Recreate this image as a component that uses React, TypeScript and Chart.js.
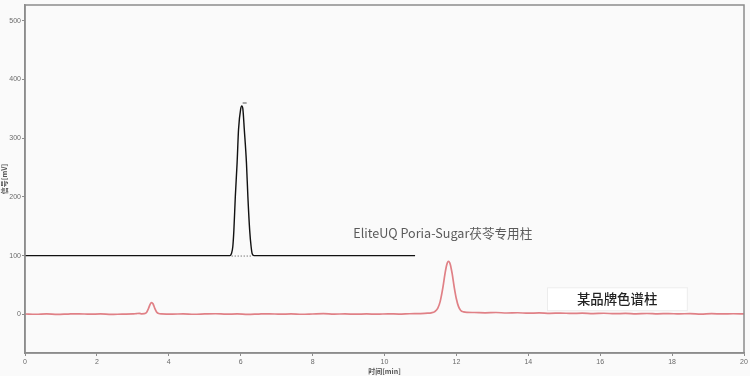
import React, { useEffect, useRef } from "react";
import { Chart, registerables } from "chart.js";

Chart.register(...registerables);

// Axis ticks
const xTickValues = [0, 2, 4, 6, 8, 10, 12, 14, 16, 18, 20];
const yTickValues = [0, 100, 200, 300, 400, 500];

// EliteUQ Poria-Sugar column trace (offset baseline at 100 mV)
const eliteTime = [0, 2, 4, 5.7, 5.74, 5.78, 5.81, 5.85, 5.9, 5.94, 6.0, 6.03, 6.06, 6.1, 6.16, 6.2, 6.25, 6.29, 6.32, 6.37, 8, 10.85];
const eliteSignal = [100, 100, 100, 100, 103, 115, 143, 200, 258, 315, 350, 355, 350, 315, 258, 200, 143, 115, 103, 100, 100, 100];

// Integration baseline under the main peak
const eliteBaseTime = [5.75, 6.32];
const eliteBaseSignal = [99.2, 99.2];

// Apex marker
const apexTime = [6.11];
const apexSignal = [360];

// Generic-brand column trace
const brandTime = [
  0, 0.3, 0.6, 0.9, 1.2, 1.5, 1.8, 2.1, 2.4, 2.7, 3.0, 3.1, 3.18, 3.25, 3.32, 3.38, 3.43, 3.48, 3.52, 3.56, 3.61, 3.66, 3.72, 3.8,
  4.1, 4.4, 4.7, 5.0, 5.3, 5.6, 5.9, 6.2, 6.5, 6.8, 7.1, 7.4, 7.7, 8.0, 8.3, 8.6, 8.9, 9.2, 9.5, 9.8, 10.1, 10.4, 10.7, 11.0, 11.2,
  11.3, 11.4, 11.48, 11.55, 11.62, 11.68, 11.73, 11.78, 11.83, 11.88, 11.94, 12.0, 12.06, 12.12, 12.2, 12.3, 12.5, 12.8, 13.1, 13.4,
  13.7, 14.0, 14.3, 14.6, 14.9, 15.2, 15.5, 15.8, 16.1, 16.4, 16.7, 17.0, 17.3, 17.6, 17.9, 18.2, 18.5, 18.8, 19.1, 19.4, 19.7, 20,
];
const brandSignal = [
  0.5, 0.0, 0.6, -0.2, 0.4, 0.8, 0.1, 0.5, -0.3, 0.3, 0.6, 1.2, 1.5, 0.8, 1.0, 3, 9, 17, 20, 18, 10, 4, 1.2, 0.6,
  0.2, 0.7, 0.0, 0.5, 0.9, 0.2, 0.6, -0.2, 0.4, 0.8, 0.1, 0.6, 0.0, 0.5, 1.0, 0.3, 0.7, 0.1, 0.6, 0.2, 0.8, 0.3, 0.9, 1.2, 1.8,
  2.5, 4.5, 10, 22, 44, 68, 84, 90, 85, 70, 46, 26, 13, 6.5, 4, 3.2, 3.0, 2.5, 3.0, 2.2,
  2.6, 1.8, 2.3, 1.6, 2.0, 1.4, 1.9, 1.2, 1.7, 1.0, 1.5, 0.8, 1.3, 0.7, 1.2, 0.6, 1.1, 0.4, 1.0, 0.5, 0.9, 0.6,
];

const eliteLabel = "EliteUQ Poria-Sugar茯苓专用柱";
const brandLabel = "某品牌色谱柱";

const pts = (xs: number[], ys: number[]) => xs.map((x, i) => ({ x, y: ys[i] }));

const tickFont = { family: "'Liberation Sans', 'Noto Sans CJK SC', sans-serif", size: 7 };
const cjkFont = "'Noto Sans CJK SC', 'Noto Sans', sans-serif";

const backgroundPlugin = {
  id: "pageBackground",
  beforeDraw(chart: any) {
    const { ctx, width, height } = chart;
    ctx.save();
    ctx.fillStyle = "#fafafa";
    ctx.fillRect(0, 0, width, height);
    ctx.restore();
  },
};

const framePlugin = {
  id: "plotFrame",
  afterDraw(chart: any) {
    const { ctx, chartArea } = chart;
    ctx.save();
    ctx.strokeStyle = "#8c8c8c";
    ctx.lineWidth = 1.5;
    ctx.strokeRect(chartArea.left, chartArea.top, chartArea.right - chartArea.left, chartArea.bottom - chartArea.top);
    ctx.restore();
  },
};

const labelPlugin = {
  id: "columnLabels",
  beforeDatasetsDraw(chart: any) {
    const { ctx, scales } = chart;
    const x = scales.x;
    const y = scales.y;
    ctx.save();
    const bx1 = x.getPixelForValue(14.52);
    const bx2 = x.getPixelForValue(18.41);
    const by1 = y.getPixelForValue(46);
    const by2 = y.getPixelForValue(7);
    ctx.fillStyle = "#ffffff";
    ctx.fillRect(bx1, by1, bx2 - bx1, by2 - by1);
    ctx.strokeStyle = "#ececec";
    ctx.lineWidth = 1;
    ctx.strokeRect(bx1 + 0.5, by1 + 0.5, bx2 - bx1, by2 - by1);
    ctx.restore();
  },
  afterDatasetsDraw(chart: any) {
    const { ctx, scales } = chart;
    const x = scales.x;
    const y = scales.y;
    ctx.save();
    ctx.textAlign = "center";
    ctx.textBaseline = "middle";
    ctx.fillStyle = "#5a5a5a";
    ctx.font = `12.6px ${cjkFont}`;
    ctx.fillText(eliteLabel, x.getPixelForValue(11.62), y.getPixelForValue(138));
    ctx.fillStyle = "#222222";
    ctx.font = `500 13.4px ${cjkFont}`;
    ctx.fillText(brandLabel, x.getPixelForValue(16.47), y.getPixelForValue(26));
    ctx.restore();
  },
};

export default function App() {
  const canvasRef = useRef<HTMLCanvasElement | null>(null);

  useEffect(() => {
    const canvas = canvasRef.current;
    if (!canvas) return;
    const chart = new Chart(canvas, {
      type: "line",
      data: {
        datasets: [
          {
            data: pts(brandTime, brandSignal),
            borderColor: "rgb(224,128,134)",
            borderWidth: 1.7,
            pointRadius: 0,
            cubicInterpolationMode: "monotone",
          },
          {
            data: pts(eliteTime, eliteSignal),
            borderColor: "#111111",
            borderWidth: 1.4,
            pointRadius: 0,
            cubicInterpolationMode: "monotone",
          },
          {
            data: pts(eliteBaseTime, eliteBaseSignal),
            borderColor: "#444444",
            borderWidth: 1,
            borderDash: [1, 2],
            pointRadius: 0,
          },
          {
            data: pts(apexTime, apexSignal),
            showLine: false,
            pointStyle: "line",
            pointRadius: 2,
            borderColor: "#555555",
            borderWidth: 1,
          },
        ],
      } as any,
      options: {
        animation: false,
        responsive: false,
        devicePixelRatio: 1,
        layout: { padding: { left: 0, top: 3, right: 6, bottom: 0 } },
        plugins: {
          legend: { display: false },
          tooltip: { enabled: false },
        },
        scales: {
          x: {
            type: "linear",
            min: 0,
            max: 20,
            afterBuildTicks: (scale: any) => {
              scale.ticks = xTickValues.map((v) => ({ value: v }));
            },
            afterFit: (scale: any) => {
              scale.height = 23;
              scale.paddingLeft = 0;
              scale.paddingRight = 0;
            },
            grid: {
              drawOnChartArea: false,
              drawTicks: true,
              tickLength: 3,
              color: "#8c8c8c",
            },
            border: { display: true, color: "#8c8c8c", width: 1.5 },
            ticks: {
              font: tickFont,
              color: "#6a6a6a",
              padding: 2,
              maxRotation: 0,
              autoSkip: false,
            },
            title: {
              display: true,
              text: "时间[min]",
              font: { family: cjkFont, size: 7, weight: "bold" },
              color: "#555555",
              padding: { top: 0, bottom: 0 },
            },
          },
          y: {
            type: "linear",
            min: -66,
            max: 527,
            afterBuildTicks: (scale: any) => {
              scale.ticks = yTickValues.map((v) => ({ value: v }));
            },
            afterFit: (scale: any) => {
              scale.width = 25;
              scale.paddingTop = 0;
              scale.paddingBottom = 0;
            },
            grid: {
              drawOnChartArea: false,
              drawTicks: true,
              tickLength: 3,
              color: "#8c8c8c",
            },
            border: { display: true, color: "#8c8c8c", width: 1.5 },
            ticks: {
              font: tickFont,
              color: "#6a6a6a",
              padding: 1,
            },
            title: {
              display: true,
              text: "信号[mV]",
              font: { family: cjkFont, size: 7, weight: "bold" },
              color: "#555555",
              padding: { top: 0, bottom: 0 },
            },
          },
        },
      } as any,
      plugins: [backgroundPlugin, labelPlugin, framePlugin],
    });
    return () => chart.destroy();
  }, []);

  return (
    <div style={{ position: "absolute", left: 0, top: 0, width: 750, height: 376 }}>
      <canvas ref={canvasRef} width={750} height={376} style={{ width: 750, height: 376, display: "block" }} />
    </div>
  );
}
